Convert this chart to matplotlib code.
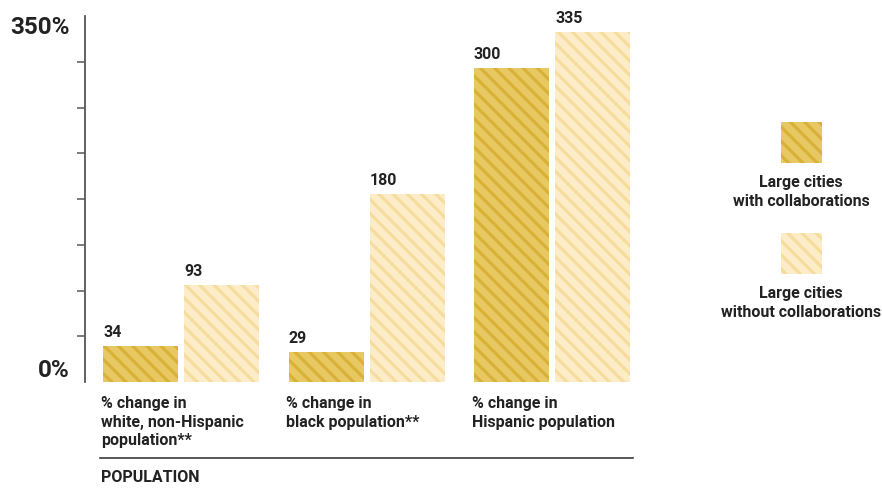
import matplotlib.pyplot as plt
from matplotlib.patches import Rectangle
from matplotlib.lines import Line2D

plt.rcParams['font.family'] = ['Roboto', 'DejaVu Sans']

categories = ['% change in\nwhite, non-Hispanic\npopulation**',
              '% change in\nblack population**',
              '% change in\nHispanic population']
with_collab = [34, 29, 300]
without_collab = [93, 180, 335]
series_names = ['Large cities\nwith collaborations', 'Large cities\nwithout collaborations']

dark_face, dark_hatch = '#e8c862', '#d8b238'
light_face, light_hatch = '#fcedc8', '#f6dc9e'
text_col = '#222222'

W, H = 882, 489
DPI = 128  # dpi chosen so the hatch stripe spacing matches


def pt(px):
    # pixel length -> points at this dpi
    return px * 72 / DPI


def fs(size):
    # font size as it would look at dpi 100
    return size * 100 / DPI


plt.rcParams['hatch.linewidth'] = pt(3.2)
HATCH = '\\\\\\'

fig = plt.figure(figsize=(W / DPI, H / DPI), dpi=DPI)
# axes in pixel geometry: left spine at x=85, zero at y=382, 350 at y=16
ax = fig.add_axes([85 / W, (H - 382) / H, (700 - 85) / W, 366 / H])

unit = 185.5
x0 = 181
ax.set_xlim(-(x0 - 85) / unit, (700 - x0) / unit)
ax.set_ylim(0, 350)

bw = 75 / unit
off = 40.5 / unit
xs = list(range(len(categories)))

b1 = ax.bar([x - off for x in xs], with_collab, width=bw, color=dark_face,
            edgecolor=dark_hatch, linewidth=0, hatch=HATCH)
b2 = ax.bar([x + off for x in xs], without_collab, width=bw, color=light_face,
            edgecolor=light_hatch, linewidth=0, hatch=HATCH)

for bars, vals in [(b1, with_collab), (b2, without_collab)]:
    for r, v in zip(bars, vals):
        ax.annotate(str(v), xy=(r.get_x(), v), xytext=(0, pt(6)), textcoords='offset points',
                    ha='left', va='bottom', fontsize=fs(11.5), fontweight='bold', color=text_col)

# axis styling
for s in ['top', 'right', 'bottom']:
    ax.spines[s].set_visible(False)
ax.spines['left'].set_color('#555555')
ax.spines['left'].set_linewidth(pt(1.8))
ax.set_xticks([])
ax.set_yticks([350 * k / 8 for k in range(1, 8)])
ax.set_yticklabels([])
ax.tick_params(axis='y', length=pt(8), width=pt(1.5), color='#555555')

ax.text(-15 / 615, 0, '0%', transform=ax.get_yaxis_transform(), ha='right', va='bottom',
        fontsize=fs(17.5), fontweight='bold', color=text_col)
ax.text(-15 / 615, 350, '350%', transform=ax.get_yaxis_transform(), ha='right', va='top',
        fontsize=fs(17.5), fontweight='bold', color=text_col)

# category labels below bars
for x, c in zip(xs, categories):
    ax.annotate(c, xy=(x - off - bw / 2, 0), xytext=(-pt(2), -pt(14)), textcoords='offset points',
                ha='left', va='top', fontsize=fs(11.5), fontweight='bold', color=text_col,
                linespacing=1.3, annotation_clip=False)

fig.add_artist(Line2D([100 / W, 633 / W], [(H - 458) / H] * 2, color='#333333', lw=pt(1.6)))
fig.text(101 / W, (H - 478) / H, 'POPULATION', ha='left', va='center', fontsize=fs(11.5),
         fontweight='bold', color=text_col)

# legend
for (face, hcol), name, ytop, ytxt in [((dark_face, dark_hatch), series_names[0], 122, 192),
                                         ((light_face, light_hatch), series_names[1], 233, 303)]:
    fig.add_artist(Rectangle((781 / W, (H - ytop - 41) / H), 41 / W, 41 / H,
                             transform=fig.transFigure, facecolor=face, edgecolor=hcol,
                             linewidth=0, hatch=HATCH))
    fig.text(801 / W, (H - ytxt) / H, name, ha='center', va='center', fontsize=fs(11.5),
             fontweight='bold', color=text_col, linespacing=1.3)

fig.savefig('out.png', dpi=DPI)
